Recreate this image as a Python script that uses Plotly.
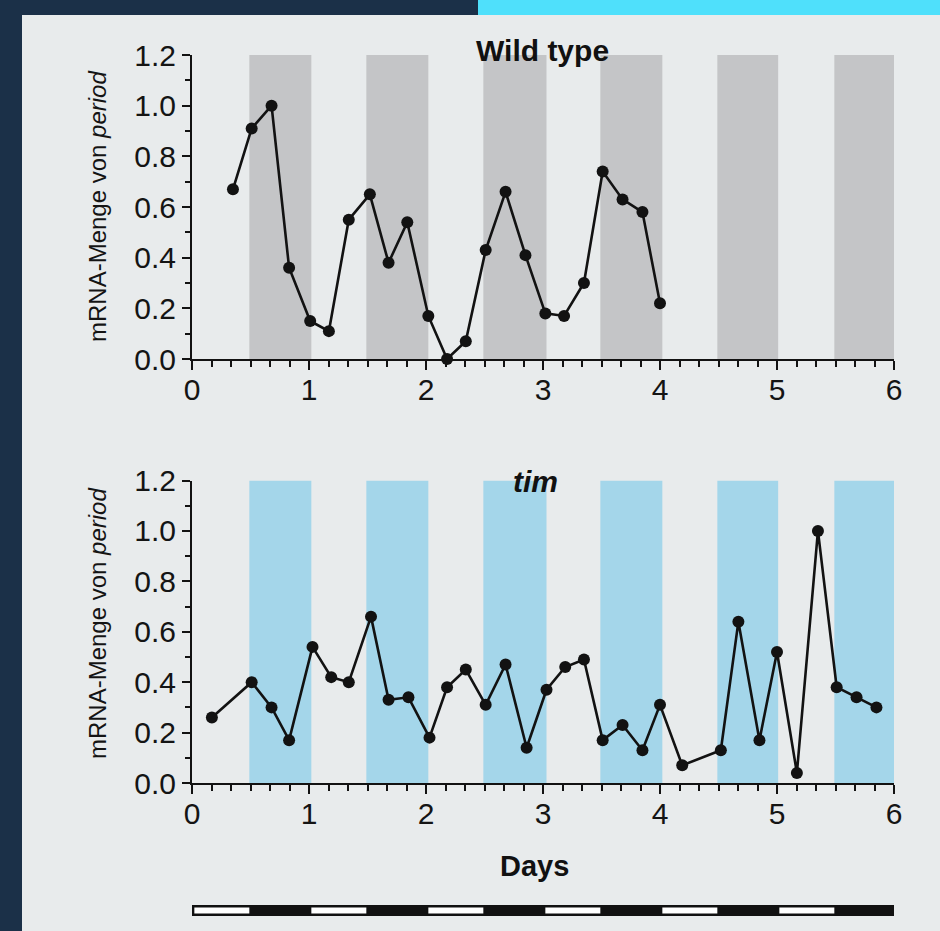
import plotly.graph_objects as go

W, H = 940, 931

# ---------------- data ----------------
wt_days = [0.35, 0.51, 0.68, 0.83, 1.01, 1.17, 1.34, 1.52, 1.68, 1.84, 2.02, 2.18,
           2.34, 2.51, 2.68, 2.85, 3.02, 3.18, 3.35, 3.51, 3.68, 3.85, 4.00]
wt_mrna = [0.67, 0.91, 1.00, 0.36, 0.15, 0.11, 0.55, 0.65, 0.38, 0.54, 0.17, 0.00,
           0.07, 0.43, 0.66, 0.41, 0.18, 0.17, 0.30, 0.74, 0.63, 0.58, 0.22]

tim_days = [0.17, 0.51, 0.68, 0.83, 1.03, 1.19, 1.34, 1.53, 1.68, 1.85, 2.03, 2.18,
            2.34, 2.51, 2.68, 2.86, 3.03, 3.19, 3.35, 3.51, 3.68, 3.85, 4.00,
            4.19, 4.52, 4.67, 4.85, 5.00, 5.17, 5.35, 5.51, 5.68, 5.85]
tim_mrna = [0.26, 0.40, 0.30, 0.17, 0.54, 0.42, 0.40, 0.66, 0.33, 0.34, 0.18, 0.38,
            0.45, 0.31, 0.47, 0.14, 0.37, 0.46, 0.49, 0.17, 0.23, 0.13, 0.31,
            0.07, 0.13, 0.64, 0.17, 0.52, 0.04, 1.00, 0.38, 0.34, 0.30]

dark_starts = [0.49, 1.49, 2.49, 3.49, 4.49, 5.49]
dark_ends = [1.02, 2.02, 3.03, 4.02, 5.01, 6.00]
light_starts = [0.02, 1.02, 2.02, 3.02, 4.02, 5.02]
light_ends = [0.49, 1.49, 2.49, 3.49, 4.49, 5.49]

x_ticks = [0, 1, 2, 3, 4, 5, 6]
y_ticks = [0.0, 0.2, 0.4, 0.6, 0.8, 1.0, 1.2]

panel_titles = ["Wild type", "<i>tim</i>"]
y_title = "mRNA-Menge von <i>period</i>"
x_title = "Days"

# ---------------- styling ----------------
BG = "#1b3048"
PANEL = "#e8ebec"
CYAN = "#4fe0fb"
GRAY_BAND = "#c4c5c7"
BLUE_BAND = "#a4d6ea"
INK = "#121212"
FONT = "Liberation Sans, Arial, Helvetica, sans-serif"


def px_x(p):
    return p / W


def px_y(p):
    return 1 - p / H


xdom = [px_x(192), px_x(894)]
y1dom = [px_y(359), px_y(55)]
y2dom = [px_y(783), px_y(480.5)]
y3dom = [px_y(916), px_y(905)]

fig = go.Figure()

line_style = dict(color=INK, width=2.6)
marker_style = dict(color=INK, size=12)

fig.add_trace(go.Scatter(x=wt_days, y=wt_mrna, mode="lines+markers",
                         line=line_style, marker=marker_style,
                         xaxis="x", yaxis="y", cliponaxis=False, showlegend=False))
fig.add_trace(go.Scatter(x=tim_days, y=tim_mrna, mode="lines+markers",
                         line=line_style, marker=marker_style,
                         xaxis="x2", yaxis="y2", cliponaxis=False, showlegend=False))
# invisible trace to create the LD bar subplot
fig.add_trace(go.Scatter(x=[0, 6], y=[0, 1], mode="markers", marker=dict(opacity=0),
                         xaxis="x3", yaxis="y3", showlegend=False, hoverinfo="skip"))

shapes = []
# background panel and cyan strip
shapes.append(dict(type="rect", xref="paper", yref="paper", x0=px_x(22), x1=1.0,
                   y0=0, y1=px_y(15), fillcolor=PANEL, line=dict(width=0), layer="below"))
shapes.append(dict(type="rect", xref="paper", yref="paper", x0=px_x(478), x1=1.0,
                   y0=px_y(15), y1=1.0, fillcolor=CYAN, line=dict(width=0), layer="below"))

for s, e in zip(dark_starts, dark_ends):
    shapes.append(dict(type="rect", xref="x", yref="y", x0=s, x1=e, y0=0, y1=1.2,
                       fillcolor=GRAY_BAND, line=dict(width=0), layer="below"))
    shapes.append(dict(type="rect", xref="x2", yref="y2", x0=s, x1=e, y0=0, y1=1.2,
                       fillcolor=BLUE_BAND, line=dict(width=0), layer="below"))

# LD bar
shapes.append(dict(type="rect", xref="x3", yref="y3", x0=0, x1=6, y0=0, y1=1,
                   fillcolor="#111111", line=dict(width=0), layer="above"))
for s, e in zip(light_starts, light_ends):
    shapes.append(dict(type="rect", xref="x3", yref="y3", x0=s, x1=e, y0=0.22, y1=0.78,
                       fillcolor="#ffffff", line=dict(width=0), layer="above"))

tickfont = dict(family=FONT, size=30, color="#141414")

xaxis_common = dict(range=[0, 6], domain=xdom, showline=True, linecolor=INK, linewidth=2,
                    ticks="outside", ticklen=9, tickwidth=2, tickcolor=INK,
                    tickvals=x_ticks, ticktext=[str(v) for v in x_ticks],
                    minor=dict(dtick=1 / 6, tick0=0, ticks="outside", ticklen=6,
                               tickwidth=2, tickcolor=INK),
                    ticklabelstandoff=-6,
                    showgrid=False, zeroline=False, tickfont=tickfont, fixedrange=True,
                    automargin=False)
yaxis_common = dict(range=[0, 1.2], showline=True, linecolor=INK, linewidth=2,
                    ticks="outside", ticklen=8, tickwidth=2, tickcolor=INK,
                    tickvals=y_ticks, ticktext=[f"{v:.1f}" for v in y_ticks],
                    minor=dict(dtick=0.1, tick0=0, ticks="outside", ticklen=5,
                               tickwidth=2, tickcolor=INK),
                    showgrid=False, zeroline=False, tickfont=tickfont, fixedrange=True,
                    automargin=False)

annotations = [
    dict(text="<b>" + panel_titles[0] + "</b>", x=px_x(542), y=px_y(50), xref="paper",
         yref="paper", showarrow=False, xanchor="center", yanchor="middle",
         font=dict(family=FONT, size=30, color="#111111")),
    dict(text="<b>" + panel_titles[1] + "</b>", x=px_x(535), y=px_y(481), xref="paper",
         yref="paper", showarrow=False, xanchor="center", yanchor="middle",
         font=dict(family=FONT, size=30, color="#111111")),
    dict(text="<b>" + x_title + "</b>", x=px_x(534), y=px_y(866), xref="paper",
         yref="paper", showarrow=False, xanchor="center", yanchor="middle",
         font=dict(family=FONT, size=29, color="#111111")),
    dict(text=y_title, x=px_x(97), y=px_y(207), xref="paper", yref="paper",
         showarrow=False, textangle=-90, xanchor="center", yanchor="middle",
         font=dict(family=FONT, size=24, color="#141414")),
    dict(text=y_title, x=px_x(97), y=px_y(624), xref="paper", yref="paper",
         showarrow=False, textangle=-90, xanchor="center", yanchor="middle",
         font=dict(family=FONT, size=24, color="#141414")),
]

fig.update_layout(
    width=W, height=H,
    autosize=False,
    margin=dict(l=0, r=0, t=0, b=0, pad=0, autoexpand=False),
    paper_bgcolor=BG,
    plot_bgcolor="rgba(0,0,0,0)",
    shapes=shapes,
    annotations=annotations,
    xaxis=dict(**xaxis_common, anchor="y"),
    yaxis=dict(**yaxis_common, domain=y1dom, anchor="x"),
    xaxis2=dict(**xaxis_common, anchor="y2"),
    yaxis2=dict(**yaxis_common, domain=y2dom, anchor="x2"),
    xaxis3=dict(range=[0, 6], domain=xdom, anchor="y3", visible=False, fixedrange=True),
    yaxis3=dict(range=[0, 1], domain=y3dom, anchor="x3", visible=False, fixedrange=True),
    hovermode=False,
    showlegend=False,
)

# pin the figure to the top-left corner of the page so it fills the window exactly
page_fix = (
    "document.documentElement.style.margin='0';"
    "document.documentElement.style.overflow='hidden';"
    "document.body.style.margin='0';"
    "document.body.style.overflow='hidden';"
    "document.body.style.background='" + BG + "';"
    "var gd=document.getElementById('{plot_id}');"
    "gd.style.position='fixed';gd.style.left='0px';gd.style.top='0px';"
)

fig.write_html("out.html", post_script=page_fix,
               config={"displayModeBar": False, "staticPlot": True})
